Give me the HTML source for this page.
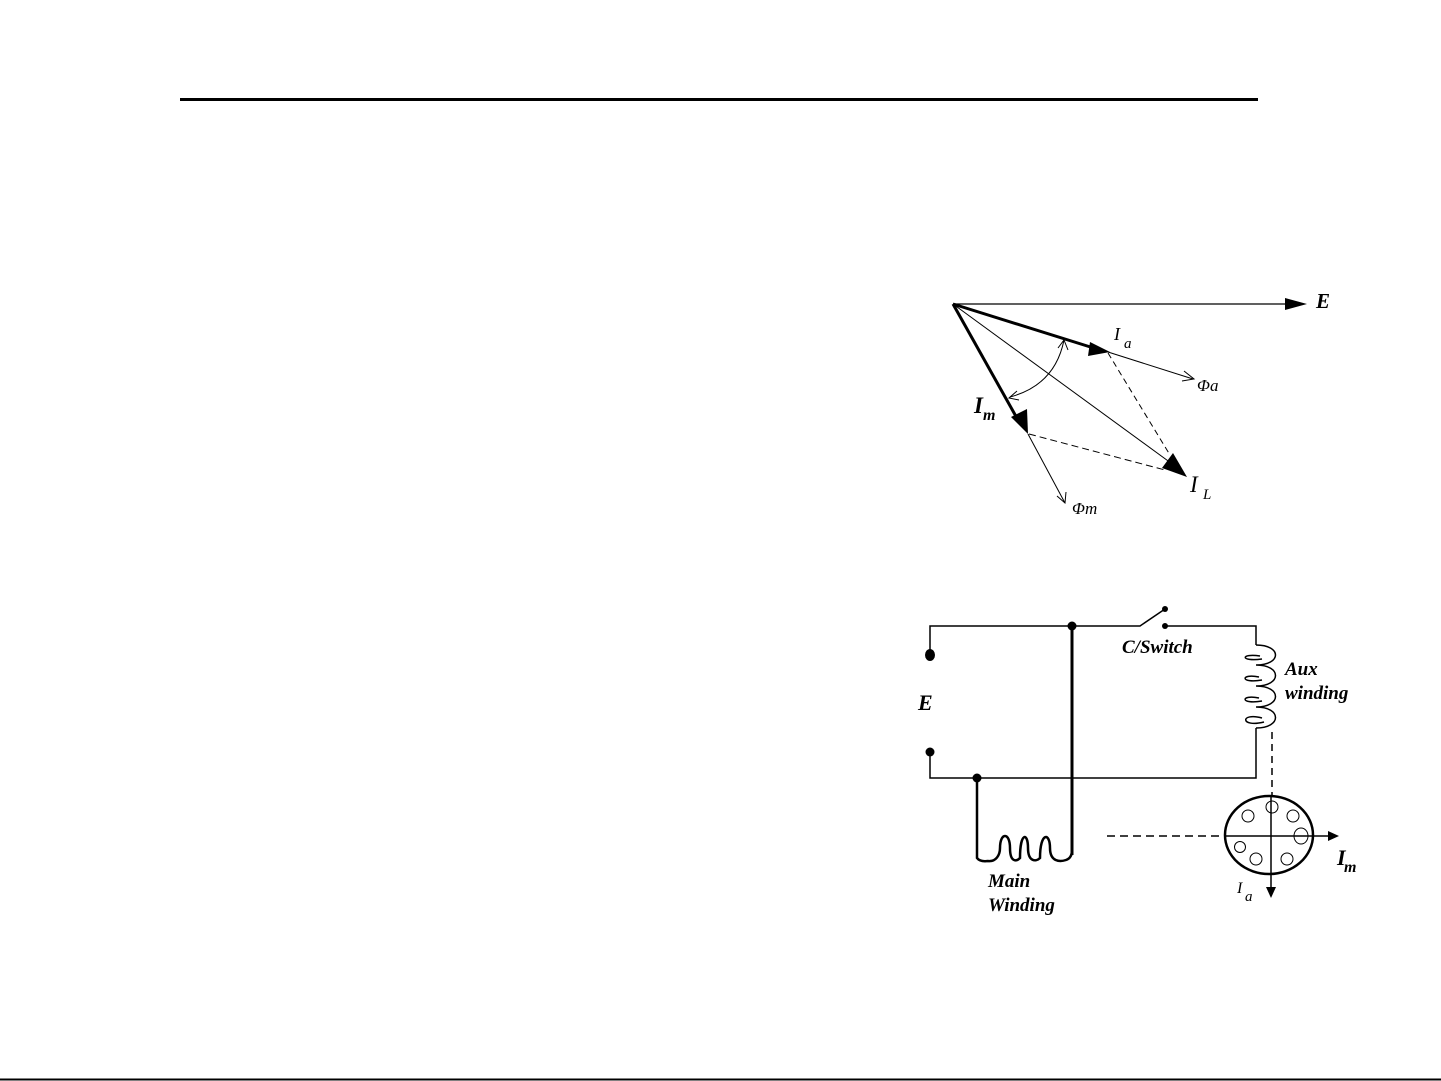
<!DOCTYPE html>
<html><head><meta charset="utf-8"><style>
html,body{margin:0;padding:0;background:#fff;}
svg{display:block;}
text{font-family:"Liberation Serif",serif;font-style:italic;fill:#000;}
</style></head><body>
<svg width="1441" height="1081" viewBox="0 0 1441 1081" xmlns="http://www.w3.org/2000/svg">
<rect width="1441" height="1081" fill="#fff"/>
<line x1="180" y1="99.5" x2="1258" y2="99.5" stroke="#000" stroke-width="3"/>
<line x1="0" y1="1079.5" x2="1441" y2="1079.5" stroke="#000" stroke-width="2"/>

<g stroke="#000" fill="none">
<line x1="953" y1="304" x2="1290" y2="304" stroke-width="1.3"/>
<polygon points="1285,298 1307,304 1285,310" fill="#000" stroke="none"/>
<line x1="953" y1="304" x2="1100" y2="350" stroke-width="3"/>
<polygon points="1090,342 1110,352 1088,356" fill="#000" stroke="none"/>
<line x1="1108" y1="352" x2="1193" y2="379" stroke-width="1"/>
<polyline points="1184,371 1194,379 1182,381" stroke-width="1"/>
<line x1="953" y1="304" x2="1018" y2="420" stroke-width="3"/>
<polygon points="1011,417 1027,409 1028,434" fill="#000" stroke="none"/>
<line x1="1028" y1="434" x2="1065" y2="503" stroke-width="1"/>
<polyline points="1057,496 1065,503 1066,492" stroke-width="1"/>
<line x1="953" y1="304" x2="1175" y2="466" stroke-width="1"/>
<polygon points="1162,468 1173,453 1187,477" fill="#000" stroke="none"/>
<line x1="1108" y1="353" x2="1170" y2="455" stroke-width="1" stroke-dasharray="6,4"/>
<line x1="1029" y1="434" x2="1165" y2="470" stroke-width="1" stroke-dasharray="7,4"/>
<path d="M1064,340 Q1055,385 1010,397" stroke-width="1"/>
<polyline points="1058,348 1064,340 1068,350" stroke-width="1"/>
<polyline points="1017,391 1009,398 1019,400" stroke-width="1"/>
</g>
<text x="1316" y="308" font-size="21" font-weight="bold">E</text>
<text x="1114" y="340" font-size="18">I</text><text x="1124" y="348" font-size="15">a</text>
<text x="1197" y="391" font-size="17" font-style="normal">Φ<tspan font-style="italic">a</tspan></text>
<text x="974" y="413" font-size="23" font-weight="bold">I</text><text x="983" y="420" font-size="16" font-weight="bold">m</text>
<text x="1072" y="514" font-size="17" font-style="normal">Φ<tspan font-style="italic">m</tspan></text>
<text x="1190" y="492" font-size="23">I</text><text x="1203" y="499" font-size="15">L</text>

<g stroke="#000" fill="none" stroke-width="1.5">
<polyline points="930,655 930,626 1140,626 1165,609"/>
<polyline points="1165,626 1256,626 1256,645"/>
<path d="M1256,645 C1282,645 1282,665 1256,665 C1282,665 1282,686 1256,686 C1282,686 1282,707 1256,707 C1282,707 1282,728 1256,728"/>
<path d="M1260,656 C1240,653 1240,662 1262,659 M1259,677 C1240,673 1240,684 1262,680 M1259,698 C1240,694 1240,705 1262,701 M1262,718 C1240,712 1240,728 1264,722"/>
<polyline points="1256,728 1256,778 930,778 930,752"/>
<line x1="1072" y1="626" x2="1072" y2="855" stroke-width="3"/>
<path d="M977,778 L977,858 Q980,862 988,861 C996,862 1000,855 1000,848 C1000,832 1010,832 1010,848 C1010,862 1016,862 1020,858 C1020,832 1028,832 1028,848 C1028,862 1036,862 1040,858 C1040,832 1050,832 1050,848 C1050,862 1060,862 1066,860 Q1072,858 1072,850" stroke-width="2.5"/>
<line x1="1272" y1="732" x2="1272" y2="796" stroke-dasharray="7,5"/>
<line x1="1107" y1="836" x2="1224" y2="836" stroke-dasharray="8,5"/>
<line x1="1224" y1="836" x2="1330" y2="836"/>
<polygon points="1328,831 1339,836 1328,841" fill="#000" stroke="none"/>
<line x1="1271" y1="796" x2="1271" y2="888"/>
<polygon points="1266,887 1271,898 1276,887" fill="#000" stroke="none"/>
<ellipse cx="1269" cy="835" rx="44" ry="39" stroke-width="2.5"/>
<g stroke-width="1">
<circle cx="1272" cy="807" r="6"/>
<circle cx="1248" cy="816" r="6"/>
<circle cx="1293" cy="816" r="6"/>
<ellipse cx="1301" cy="836" rx="7" ry="8"/>
<circle cx="1240" cy="847" r="5.5"/>
<circle cx="1256" cy="859" r="6"/>
<circle cx="1287" cy="859" r="6"/>
</g>
</g>
<g fill="#000">
<circle cx="1072" cy="626" r="4.5"/>
<circle cx="977" cy="778" r="4.5"/>
<ellipse cx="930" cy="655" rx="5" ry="6"/>
<circle cx="930" cy="752" r="4.5"/>
<circle cx="1165" cy="609" r="3"/>
<circle cx="1165" cy="626" r="3"/>
</g>
<text x="918" y="710" font-size="22" font-weight="bold">E</text>
<text x="1122" y="653" font-size="19" font-weight="bold">C/Switch</text>
<text x="1285" y="675" font-size="19" font-weight="bold">Aux</text>
<text x="1285" y="699" font-size="19" font-weight="bold">winding</text>
<text x="988" y="887" font-size="19" font-weight="bold">Main</text>
<text x="988" y="911" font-size="19" font-weight="bold">Winding</text>
<text x="1337" y="865" font-size="22" font-weight="bold">I</text><text x="1344" y="872" font-size="16" font-weight="bold">m</text>
<text x="1237" y="893" font-size="16">I</text><text x="1245" y="901" font-size="15">a</text>
</svg>
</body></html>
